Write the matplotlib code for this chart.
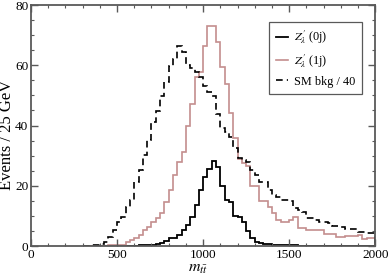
import numpy as np
import matplotlib.pyplot as plt
from matplotlib.ticker import MultipleLocator

# bins of 25 GeV, starting at 300 GeV
bin_start = 300
bin_width = 25

# SM background / 40 (dashed)
sm_bkg = [0.1, 0.1, 0.2, 0.3, 0.7, 1.5, 3, 5.3, 8, 9.7,
          13, 15.3, 21.3, 25.3, 30.3, 35.3, 41.3, 44.7, 49.7, 54.3,
          59.7, 62, 66.5, 64.5, 60, 59, 57.7, 56, 53, 51,
          49.7, 43.7, 39.3, 38, 36.3, 32.7, 29.3, 28.5, 28, 25.3,
          23.7, 21.4, 21.4, 18.7, 17, 16.4, 15.3, 15.3, 14.8, 12.6,
          12, 11.4, 9.2, 9.2, 8.7, 8.1, 8.1, 7.6, 6.7, 6.7,
          6.2, 5.6, 5.6, 5.6, 4.8, 4.8, 4.2, 4.2]

# Z' (1j) (pink)
zp_1j = [0, 0, 0, 0, 0.1, 0.1, 0.2, 0.2, 0.3, 0.5,
         1.3, 2, 2.7, 3.7, 5.3, 6.3, 8, 9.3, 11, 14.7,
         18.7, 23.7, 28, 31.3, 39.7, 47, 56, 57.7, 66.3, 73,
         73, 67.7, 59.3, 53.7, 44.3, 36, 29, 27.5, 26.5, 19.8,
         19.8, 14.8, 14.8, 13.1, 11.1, 8.7, 8.1, 8.1, 8.7, 9.6,
         5.9, 5.9, 5.3, 5.3, 5.3, 5.3, 4, 4, 4, 2.9,
         2.9, 3.3, 3.3, 3.3, 3.7, 2.3, 2.8, 2.8]

# Z' (0j) (black)
zp_0j = [0, 0, 0, 0, 0, 0, 0, 0, 0, 0,
         0, 0, 0.1, 0.2, 0.2, 0.3, 0.4, 0.6, 1.1, 1.8,
         2.7, 2.7, 3.7, 5.3, 7, 9.5, 13.5, 18.5, 23, 25.5,
         28.3, 26.3, 20, 15.3, 14.7, 10, 9.5, 8, 5, 2.6,
         1.4, 1, 0.8, 0.6, 0.4, 0.3, 0.3, 0.2, 0.2, 0.2,
         0.1, 0.1, 0.1, 0.1, 0.1, 0.1, 0.1, 0.1, 0.1, 0.1,
         0.1, 0.1, 0.1, 0.1, 0.1, 0.1, 0.1, 0.1]

edges = bin_start + bin_width * np.arange(len(sm_bkg) + 1)

plt.rcParams['font.family'] = ['Liberation Serif', 'DejaVu Serif']
plt.rcParams['mathtext.fontset'] = 'stix'

fig = plt.figure(figsize=(3.88, 2.78), dpi=100)
ax = fig.add_axes([0.080, 0.115, 0.887, 0.867])

pink = '#c48e8e'
ax.stairs(zp_0j, edges, color='black', lw=1.3, label="$Z^{\\prime}_{\\lambda}$ (0j)")
ax.stairs(zp_1j, edges, color=pink, lw=1.2, label="$Z^{\\prime}_{\\lambda}$ (1j)")
ax.stairs(sm_bkg, edges, color='black', lw=1.2, linestyle=(0, (4, 2.5)),
          label='SM bkg / 40')

ax.set_xlim(0, 2000)
ax.set_ylim(0, 80)
ax.xaxis.set_major_locator(MultipleLocator(500))
ax.xaxis.set_minor_locator(MultipleLocator(100))
ax.yaxis.set_major_locator(MultipleLocator(20))
ax.yaxis.set_minor_locator(MultipleLocator(5))
ax.tick_params(which='both', direction='in', top=True, right=True,
               labelsize=9.5, pad=2, color='0.35')
ax.tick_params(which='major', length=5, width=1)
ax.tick_params(which='minor', length=2.5, width=0.8)
for s in ax.spines.values():
    s.set_color('0.35')
    s.set_linewidth(1.3)

ax.set_ylabel('Events / 25 GeV', fontsize=12)
ax.yaxis.set_label_coords(-0.047, 0.46)
ax.set_xlabel('$m_{t\\bar{t}}$', fontsize=11.5)
ax.xaxis.set_label_coords(0.485, -0.06)

leg = ax.legend(loc='upper right', bbox_to_anchor=(0.963, 0.93), fontsize=8.8,
                fancybox=False, framealpha=1, edgecolor='0.35',
                handlelength=1.0, handletextpad=0.5, borderpad=0.55,
                borderaxespad=0, labelspacing=0.5)
leg.get_frame().set_linewidth(0.9)

fig.savefig('out.png', dpi=100)
